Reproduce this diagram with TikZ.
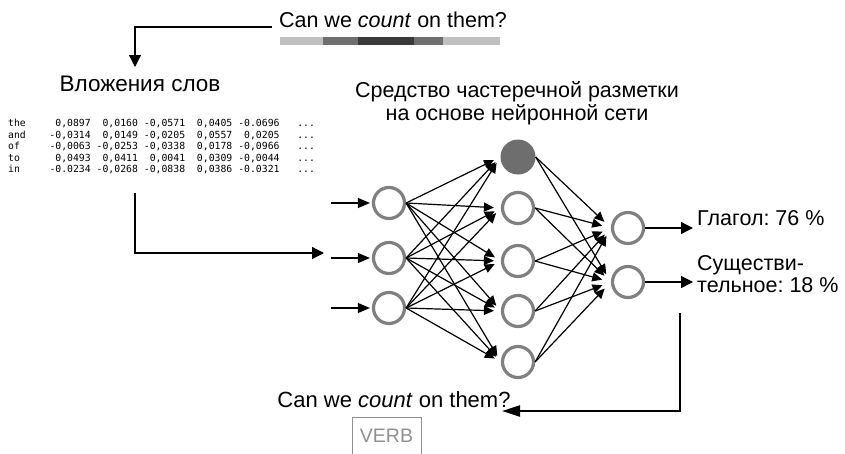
\documentclass[tikz,border=0pt]{standalone}
\usepackage{fontspec}
\setmainfont{Liberation Sans}
\setmonofont{DejaVu Sans Mono}
\usetikzlibrary{arrows.meta}
\definecolor{ngray}{HTML}{808080}
\definecolor{bgray}{HTML}{6E6E6E}
\definecolor{barlight}{HTML}{C0C0C0}
\definecolor{barmid}{HTML}{6E6E6E}
\definecolor{bardark}{HTML}{3A3A3A}
\definecolor{vgray}{HTML}{909090}
\frenchspacing
\begin{document}
\begin{tikzpicture}[x=1pt,y=-1pt,
  neuron/.style={circle,draw=ngray,line width=3.2pt,minimum size=31pt,inner sep=0pt},
  bias/.style={circle,fill=bgray,minimum size=35pt,inner sep=0pt},
  conn/.style={line width=1.2pt,-{Triangle[length=10pt,width=9pt]}},
  bigconn/.style={line width=1.3pt,-{Triangle[length=12pt,width=12pt]}},
  lbl/.style={font=\fontsize{21.5}{24}\selectfont,inner sep=0pt},
  row/.style={font=\ttfamily\fontsize{9.8}{11.5}\selectfont,inner sep=0pt,anchor=base west},
]
\useasboundingbox (0,0) rectangle (845,453);

% top sentence and attention bar
\node[lbl,anchor=base] (q1) at (393,27) {Can we \textit{count} on them?};
\fill[barlight] (280,37) rectangle (323,45);
\fill[barmid] (323,37) rectangle (358,45);
\fill[bardark] (358,37) rectangle (414,45);
\fill[barmid] (414,37) rectangle (443,45);
\fill[barlight] (443,37) rectangle (500,45);

% embeddings
\node[lbl,anchor=base,font=\fontsize{22.5}{25}\selectfont] (emb) at (140,91) {Вложения слов};
\coordinate (t1) at (272,27);
\coordinate (t2) at (135,67);
\draw[bigconn] (t1) -| (t2);

\node[row] (r1) at (8,126.5) {the~~~~~0,0897~~0,0160~-0,0571~~0,0405~-0.0696~~~...};
\node[row] (r2) at (8,138) {and~~~~-0,0314~~0,0149~-0,0205~~0,0557~~0,0205~~~...};
\node[row] (r3) at (8,149.5) {of~~~~~-0,0063~-0,0253~-0,0338~~0,0178~-0,0966~~~...};
\node[row] (r4) at (8,161) {to~~~~~~0,0493~~0,0411~~0,0041~~0,0309~-0,0044~~~...};
\node[row] (r5) at (8,172.5) {in~~~~~-0.0234~-0,0268~-0,0838~~0,0386~-0.0321~~~...};

\coordinate (e1) at (135,193);
\coordinate (e2) at (324,253);
\draw[bigconn] (e1) |- (e2);

% heading
\node[lbl,anchor=base] (h1t) at (517,97) {Средство частеречной разметки};
\node[lbl,anchor=base] (h2t) at (517,120) {на основе нейронной сети};

% network
\node[neuron] (in1) at (389,203) {};
\node[neuron] (in2) at (389,258) {};
\node[neuron] (in3) at (389,308) {};
\node[bias] (h0) at (518,157) {};
\node[neuron] (h1) at (518,208) {};
\node[neuron] (h2) at (518,261) {};
\node[neuron] (h3) at (518,311) {};
\node[neuron] (h4) at (518,362) {};
\node[neuron] (o1) at (628,228) {};
\node[neuron] (o2) at (628,282) {};

\coordinate (s1) at (331,203);
\coordinate (s2) at (331,258);
\coordinate (s3) at (331,308);
\foreach \i in {1,2,3}{
  \draw[conn,-{Triangle[length=12pt,width=10pt]},shorten >=2pt] (s\i) -- (in\i.west);
}
\foreach \i in {1,2,3}{
  \foreach \j in {0,1,2,3,4}{
    \draw[conn,shorten >=7pt] (in\i.east) -- (h\j.west);
  }
}
\foreach \j in {0,1,2,3,4}{
  \foreach \k in {1,2}{
    \draw[conn,shorten >=9pt] (h\j.east) -- (o\k.west);
  }
}

% outputs
\node[lbl,anchor=base west] (l1) at (697,225) {Глагол: 76 \%};
\node[lbl,anchor=base west] (l2a) at (697,270) {Существи-};
\node[lbl,anchor=base west] (l2b) at (697,292) {тельное: 18 \%};
\coordinate (p1) at (693,228);
\coordinate (p2) at (693,282);
\draw[bigconn] (o1.east) -- (p1);
\draw[bigconn] (o2.east) -- (p2);

% bottom
\node[lbl,anchor=base,font=\fontsize{22}{24}\selectfont] (q2) at (394,407) {Can we \textit{count} on them?};
\coordinate (b1) at (680,313);
\coordinate (b2) at (502,411);
\draw[line width=2.2pt,-{Triangle[length=18pt,width=11pt]}] (b1) |- (b2);
\node[draw=vgray,text=vgray,line width=0.8pt,minimum width=69pt,minimum height=38pt,inner sep=0pt,font=\fontsize{19.5}{21}\selectfont] (verb) at (386.5,436) {VERB};
\end{tikzpicture}
\end{document}
